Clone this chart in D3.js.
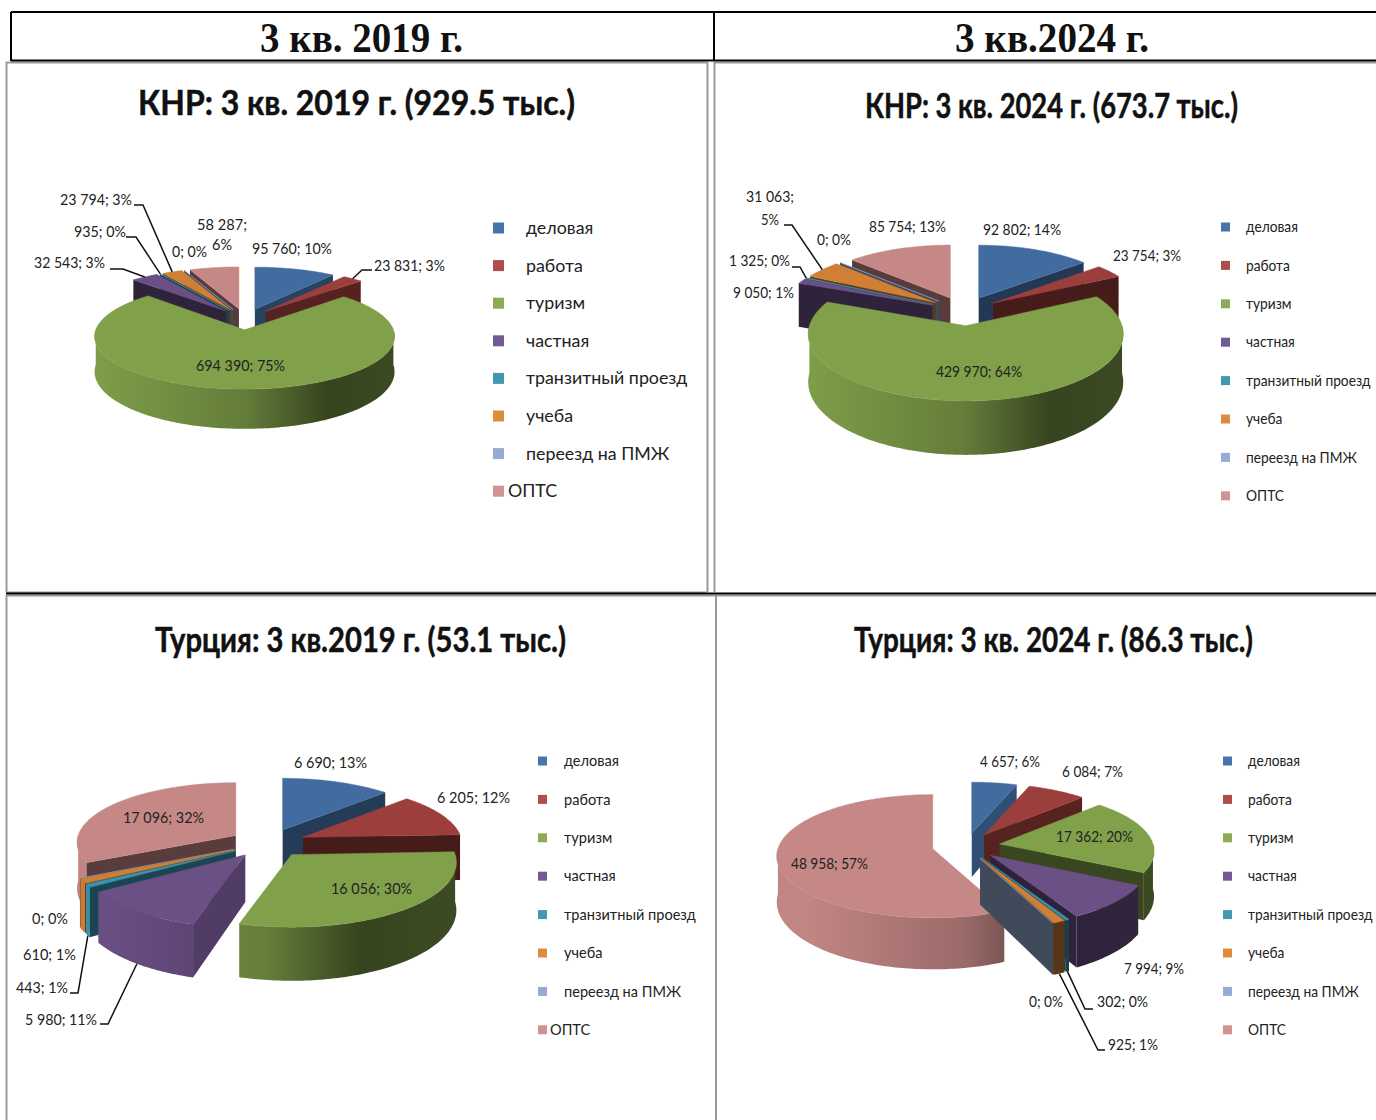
<!DOCTYPE html>
<html lang="ru">
<head>
    <meta charset="UTF-8">
    <title>КНР и Турция: 3 кв. 2019 и 2024</title>
    <script src="https://d3js.org/d3.v7.min.js"></script>
    <style>
        body { margin: 0; background: #fff; }
        svg { display: block; }
        text { fill: #111; }
        .label { font-family: Lato, "Open Sans", sans-serif; font-size: 15px; fill: #222; }
        .legend { font-family: Lato, "Open Sans", sans-serif; fill: #222; }
        .title { font-family: Lato, "Open Sans", sans-serif; font-weight: 700; font-size: 34px; stroke: #111; stroke-width: 0.5px; }
        .head { font-family: "Liberation Serif", serif; font-weight: 700; font-size: 42px; }
    </style>
</head>
<body>
    <svg width="1376" height="1120"></svg>
    <script>
        const categories = ["деловая", "работа", "туризм", "частная", "транзитный проезд", "учеба", "переезд на ПМЖ", "ОПТС"];
        const colors = ["#426c9f", "#9c3f3c", "#80a04a", "#6b5086", "#3a93ad", "#d07f36", "#93a9cf", "#c58886"];
        const legendColors = ["#4675ac", "#b04c4a", "#8daa54", "#725a94", "#4299af", "#df8a3f", "#96abd3", "#d19391"];

        const khr2019 = [95760, 23831, 694390, 32543, 935, 23794, 0, 58287];
        const khr2019Pct = [10, 3, 75, 3, 0, 3, 0, 6];
        const khr2024 = [92802, 23754, 429970, 9050, 1325, 31063, 0, 85754];
        const khr2024Pct = [14, 3, 64, 1, 0, 5, 0, 13];
        const tur2019 = [6690, 6205, 16056, 5980, 443, 610, 0, 17096];
        const tur2019Pct = [13, 12, 30, 11, 1, 1, 0, 32];
        const tur2024 = [4657, 6084, 17362, 7994, 302, 925, 0, 48958];
        const tur2024Pct = [6, 7, 20, 9, 0, 1, 0, 57];

        const headers = ["3 кв. 2019 г.", "3 кв.2024 г."];

        // layout of each panel. labels: one [x, baseline, width] per line, two lines split at "; "
        const charts = [
            {
                title: "КНР: 3 кв. 2019 г. (929.5 тыс.)", titleBox: [138, 115, 437],
                values: khr2019, pct: khr2019Pct,
                cx: 245, cy: 319, R: 145, tilt: 0.34, depth: 34, explode: 31,
                legend: { sw: 493, size: 11, text: 526, y0: 228, step: 37.6, fs: 18, sx: 0.99, lastText: 508 },
                labels: [[[252, 254, 80]], [[374, 271, 71]], [[196, 371, 89]], [[34, 268, 71]], [[74, 237, 52]], [[60, 205, 72]], [[172, 257, 35]], [[197, 230, 50], [212, 250, 20]]],
                leaders: [[1, 0, [[372, 270], [362, 270]]], [3, 0, [[110, 269], [123, 269]]], [4, 0, [[126, 237], [136, 237]]], [5, 0, [[134, 205], [143, 205]]]]
            },
            {
                title: "КНР: 3 кв. 2024 г. (673.7 тыс.)", titleBox: [865, 118, 373],
                values: khr2024, pct: khr2024Pct,
                cx: 964, cy: 311, R: 152, tilt: 0.41, depth: 46, explode: 35,
                legend: { sw: 1221, size: 9, text: 1246, y0: 227, step: 38.4, fs: 16, sx: 0.86, lastText: 1246 },
                labels: [[[983, 235, 78]], [[1113, 261, 68]], [[936, 377, 86]], [[733, 298, 61]], [[729, 266, 61]], [[746, 202, 48], [761, 225, 18]], [[817, 245, 34]], [[869, 232, 77]]],
                leaders: [[4, 0, [[792, 267], [800, 267]]], [5, 0, [[784, 225], [792, 225]]]]
            },
            {
                title: "Турция: 3 кв.2019 г. (53.1 тыс.)", titleBox: [155, 652, 411],
                values: tur2019, pct: tur2019Pct,
                cx: 268, cy: 843, R: 160, tilt: 0.38, depth: 46, explode: 38,
                legend: { sw: 538, size: 9, text: 564, y0: 761, step: 38.4, fs: 16, sx: 0.91, lastText: 550 },
                labels: [[[294, 768, 73]], [[437, 803, 73]], [[331, 894, 81]], [[25, 1025, 72]], [[16, 993, 52]], [[23, 960, 53]], [[32, 924, 36]], [[123, 823, 81]]],
                leaders: [[3, 1, [[100, 1024], [108, 1024]]], [4, 1, [[70, 993], [78, 993]]]]
            },
            {
                title: "Турция: 3 кв. 2024 г. (86.3 тыс.)", titleBox: [854, 652, 399],
                values: tur2024, pct: tur2024Pct,
                cx: 966, cy: 846, R: 154, tilt: 0.39, depth: 45, explode: 34,
                legend: { sw: 1223, size: 9, text: 1248, y0: 761, step: 38.4, fs: 16, sx: 0.86, lastText: 1248 },
                labels: [[[980, 767, 60]], [[1062, 777, 61]], [[1056, 842, 77]], [[1124, 974, 60]], [[1097, 1007, 51]], [[1108, 1050, 50]], [[1029, 1007, 34]], [[791, 869, 77]]],
                leaders: [[4, 1, [[1093, 1009], [1085, 1009]]], [5, 1, [[1105, 1050], [1098, 1050]]]]
            }
        ];

        const keep = 0.12;        // perspective strength

        const svg = d3.select("svg");
        const defs = svg.append("defs");
        const num = d3.formatLocale({ decimal: ".", thousands: " ", grouping: [3], currency: ["", ""] }).format(",");
        const pie = d3.pie().sort(null);
        const line = d3.line();

        function scaleColor(c, f) {
            const r = d3.rgb(c);
            return d3.rgb(r.r * f, r.g * f, r.b * f).formatHex();
        }

        // shade of a flat cut face by the direction it points to
        const faceShade = d3.scaleLinear().domain([100, 150, 360]).range([0.8, 0.45, 0.42]).clamp(true);
        const wallStops = [[0, 0.98], [0.5, 0.78], [0.79, 0.42], [1, 0.46]];

        charts.forEach((c, ci) => {
            const g = svg.append("g");
            const x = d3.scaleLinear().domain([-1, 1]).range([c.cx - c.R, c.cx + c.R]);
            const y = d3.scaleLinear().domain([-1, 1]).range([c.cy - c.R * c.tilt, c.cy + c.R * c.tilt]);
            const off = c.explode / c.R;

            function proj(a, r, z, mid) {
                const ox = off * Math.sin(mid);
                const v = -off * Math.cos(mid) - r * Math.cos(a);
                const s = 1 / (1 - keep * v);
                return [x(ox + r * Math.sin(a) * s), y(v * s) + c.depth * z * s];
            }
            function arcPts(a0, a1, z, mid) {
                const n = Math.max(2, Math.ceil((a1 - a0) / 0.02));
                return d3.range(n + 1).map(i => proj(a0 + (a1 - a0) * i / n, 1, z, mid));
            }

            const slices = pie(c.values).map((d, i) => ({ ...d, i, mid: (d.startAngle + d.endAngle) / 2 }));
            const order = slices.slice().sort((p, q) => -Math.cos(p.mid) + Math.cos(q.mid));

            categories.forEach((_, i) => {
                const grad = defs.append("linearGradient")
                    .attr("id", `wall-${ci}-${i}`)
                    .attr("gradientUnits", "userSpaceOnUse")
                    .attr("x1", x(-1)).attr("x2", x(1)).attr("y1", 0).attr("y2", 0);
                wallStops.forEach(s => grad.append("stop")
                    .attr("offset", s[0])
                    .attr("stop-color", scaleColor(colors[i], s[1])));
            });

            order.forEach(d => {
                const col = colors[d.i];
                const a0 = d.startAngle, a1 = d.endAngle;
                const apexTop = proj(0, 0, 0, d.mid), apexBot = proj(0, 0, 1, d.mid);

                if (Math.sin(a0) < 0) {
                    const normal = (a0 * 180 / Math.PI - 90 + 360) % 360;
                    g.append("path")
                        .attr("d", line([apexTop, proj(a0, 1, 0, d.mid), proj(a0, 1, 1, d.mid), apexBot]) + "Z")
                        .attr("fill", scaleColor(col, faceShade(normal)));
                }
                if (Math.sin(a1) > 0) {
                    const normal = (a1 * 180 / Math.PI + 90) % 360;
                    g.append("path")
                        .attr("d", line([apexTop, proj(a1, 1, 0, d.mid), proj(a1, 1, 1, d.mid), apexBot]) + "Z")
                        .attr("fill", scaleColor(col, faceShade(normal)));
                }
                const w0 = Math.max(a0, Math.PI / 2), w1 = Math.min(a1, Math.PI * 1.5);
                if (w1 > w0) {
                    const pts = arcPts(w0, w1, 0, d.mid).concat(arcPts(w0, w1, 1, d.mid).reverse());
                    g.append("path")
                        .attr("d", line(pts) + "Z")
                        .attr("fill", `url(#wall-${ci}-${d.i})`);
                }
                g.append("path")
                    .attr("d", line([apexTop].concat(arcPts(a0, a1, 0, d.mid))) + "Z")
                    .attr("fill", col)
                    .attr("stroke", col)
                    .attr("stroke-width", 0.5);
            });

            // leader lines end on the middle of their slice
            c.leaders.forEach(l => {
                const d = slices[l[0]];
                g.append("path")
                    .attr("d", line(l[2].concat([proj(d.mid, 1, l[1], d.mid)])))
                    .attr("fill", "none")
                    .attr("stroke", "#111")
                    .attr("stroke-width", 1.5);
            });

            // data labels
            slices.forEach(d => {
                const txt = num(c.values[d.i]) + "; " + c.pct[d.i] + "%";
                const boxes = c.labels[d.i];
                const parts = boxes.length > 1 ? [txt.split("; ")[0] + ";", txt.split("; ")[1]] : [txt];
                boxes.forEach((b, k) => {
                    g.append("text")
                        .attr("class", "label")
                        .attr("x", b[0]).attr("y", b[1])
                        .attr("textLength", b[2])
                        .attr("lengthAdjust", "spacingAndGlyphs")
                        .text(parts[k]);
                });
            });

            // title
            g.append("text")
                .attr("class", "title")
                .attr("x", c.titleBox[0]).attr("y", c.titleBox[1])
                .attr("textLength", c.titleBox[2])
                .attr("lengthAdjust", "spacingAndGlyphs")
                .text(c.title);

            // legend
            const lg = c.legend;
            categories.forEach((name, i) => {
                const yy = lg.y0 + lg.step * i;
                g.append("rect")
                    .attr("x", lg.sw).attr("y", yy - lg.size / 2)
                    .attr("width", lg.size).attr("height", lg.size)
                    .attr("fill", legendColors[i]);
                const t = g.append("text")
                    .attr("class", "legend")
                    .attr("x", i === 7 ? lg.lastText : lg.text)
                    .attr("y", yy + lg.fs * 0.33)
                    .attr("font-size", lg.fs)
                    .text(name);
                t.attr("textLength", t.node().getComputedTextLength() * lg.sx)
                    .attr("lengthAdjust", "spacingAndGlyphs");
            });
        });

        // table frame
        const frame = svg.append("g").attr("fill", "none");
        const gray = "#999", ink = "#000";
        [[6.5, 62, 6.5, 592], [707.5, 62, 707.5, 592], [714.5, 62, 714.5, 592], [6, 62.5, 707, 62.5], [714, 62.5, 1376, 62.5], [6, 592.5, 707, 592.5],
         [6.5, 595, 6.5, 1120], [716, 595, 716, 1120], [6, 595.5, 716, 595.5], [716, 595.5, 1376, 595.5]].forEach(l =>
            frame.append("line").attr("x1", l[0]).attr("y1", l[1]).attr("x2", l[2]).attr("y2", l[3]).attr("stroke", gray).attr("stroke-width", 2));
        [[11, 12, 1376, 12], [11, 12, 11, 61], [714, 12, 714, 61], [11, 60.5, 1376, 60.5], [6, 593.5, 1376, 593.5]].forEach(l =>
            frame.append("line").attr("x1", l[0]).attr("y1", l[1]).attr("x2", l[2]).attr("y2", l[3]).attr("stroke", ink).attr("stroke-width", 2));

        svg.append("text").attr("class", "head").attr("x", 260).attr("y", 52)
            .attr("textLength", 203).attr("lengthAdjust", "spacingAndGlyphs").text(headers[0]);
        svg.append("text").attr("class", "head").attr("x", 955).attr("y", 52)
            .attr("textLength", 194).attr("lengthAdjust", "spacingAndGlyphs").text(headers[1]);
    </script>
</body>
</html>
